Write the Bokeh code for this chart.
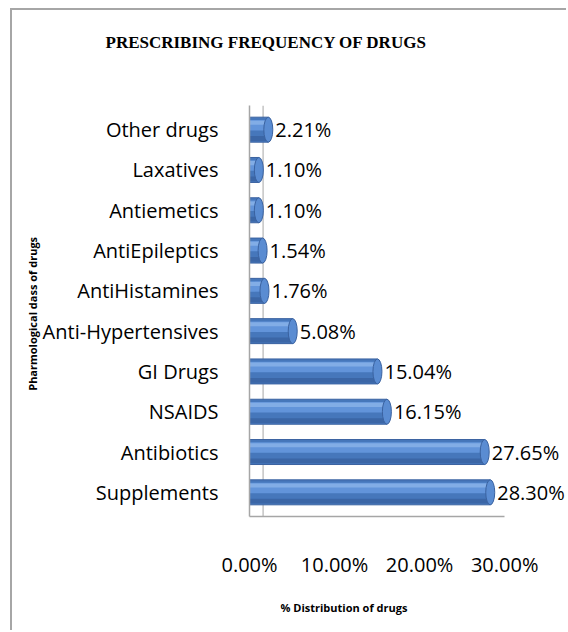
from bokeh.plotting import figure
from bokeh.models import FactorRange, Range1d, Title, FixedTicker, PrintfTickFormatter, ColumnDataSource, Span
from bokeh.transform import dodge
from bokeh.core.properties import value
from bokeh.embed import file_html
from bokeh.resources import INLINE

categories = ["Supplements", "Antibiotics", "NSAIDS", "GI Drugs", "Anti-Hypertensives",
              "AntiHistamines", "AntiEpileptics", "Antiemetics", "Laxatives", "Other drugs"]
values = [28.30, 27.65, 16.15, 15.04, 5.08, 1.76, 1.54, 1.10, 1.10, 2.21]
x_ticks = [0, 10, 20, 30]
title_text = "PRESCRIBING FREQUENCY OF DRUGS"
x_title = "% Distribution  of drugs"
y_title = "Pharmological  dass  of drugs"

src = ColumnDataSource(dict(cat=categories, val=values, lab=[f"{v:.2f}%" for v in values]))

FONT = "Open Sans"

p = figure(width=556, height=622, output_backend="svg", toolbar_location=None,
           x_range=Range1d(0, 37.5),
           y_range=FactorRange(factors=categories, range_padding=0.1, range_padding_units="absolute"),
           min_border_left=237, min_border_right=0, min_border_top=95, min_border_bottom=116)
p.styles = {"margin-left": "10px", "margin-top": "8px",
            "border-left": "2px solid #a6a6a6", "border-top": "2px solid #a6a6a6"}
p.outline_line_color = None
p.grid.visible = False
p.background_fill_color = "white"

# back wall edge of the pseudo-3D plot area
p.add_layout(Span(location=1.6, dimension="height", line_color="#c4c4c4", line_width=1.5,
                  level="underlay"))

# bars (pseudo 3D cylinders)
p.hbar(y="cat", left=0, right="val", height=0.62, source=src,
       fill_color="#4677bb", line_color="#3a62a0", line_width=1)
p.hbar(y=dodge("cat", 0.11, range=p.y_range), left=0, right="val", height=0.26, source=src,
       fill_color="#6294da", line_color=None)
p.hbar(y=dodge("cat", 0.17, range=p.y_range), left=0, right="val", height=0.1, source=src,
       fill_color="#82ade6", line_color=None)
p.hbar(y=dodge("cat", -0.22, range=p.y_range), left=0, right="val", height=0.12, source=src,
       fill_color="#3b66a6", line_color=None)
p.ellipse(x="val", y="cat", width=9, width_units="screen", height=0.62, source=src,
          fill_color="#5a8cd2", line_color="#3a62a0", line_width=1)

p.text(x="val", y="cat", text="lab", source=src, x_offset=7, text_baseline="middle",
       text_font=value(FONT), text_font_size="20px", text_color="black")

# axes
xa = p.xaxis[0]
xa.ticker = FixedTicker(ticks=x_ticks)
xa.formatter = PrintfTickFormatter(format="%.2f%%")
xa.bounds = (0, 30)
xa.axis_line_color = "#a6a6a6"
xa.axis_line_width = 1.5
xa.major_tick_line_color = None
xa.minor_tick_line_color = None
xa.major_label_standoff = 28
xa.major_label_text_font = FONT
xa.major_label_text_font_size = "20px"
xa.major_label_text_color = "black"

ya = p.yaxis[0]
ya.axis_line_color = "#a6a6a6"
ya.axis_line_width = 1.5
ya.major_tick_line_color = None
ya.minor_tick_line_color = None
ya.major_label_standoff = 25
ya.major_label_text_font = FONT
ya.major_label_text_font_size = "20px"
ya.major_label_text_color = "black"
ya.axis_label = y_title
ya.axis_label_text_font = FONT
ya.axis_label_text_font_size = "11px"
ya.axis_label_text_font_style = "bold"
ya.axis_label_text_color = "black"
ya.axis_label_standoff = 0

# spacer between frame and chart title (titles stack outward in the order added)
p.add_layout(Title(text=" ", standoff=51, text_font_size="1px"), "above")
p.add_layout(Title(text=title_text, align="left", offset=-144, standoff=0,
                   text_font="Liberation Serif", text_font_style="bold",
                   text_font_size="17px", text_color="black"), "above")
p.add_layout(Title(text=x_title, align="left", offset=31, standoff=35,
                   text_font=FONT, text_font_style="bold",
                   text_font_size="11px", text_color="black"), "below")

open("out.html", "w").write(file_html(p, INLINE))
